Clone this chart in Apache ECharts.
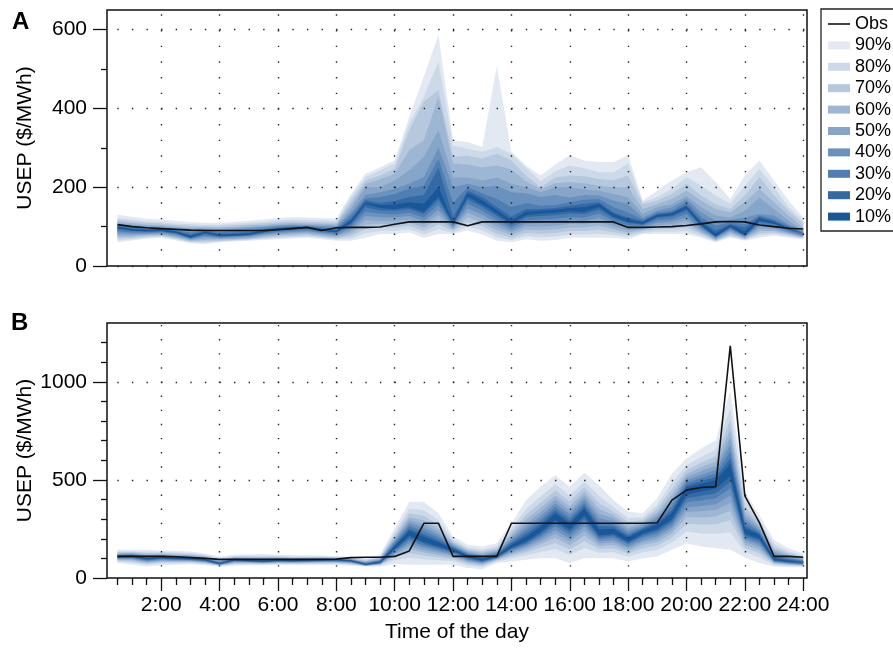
<!DOCTYPE html>
<html><head><meta charset="utf-8">
<script src="https://cdn.jsdelivr.net/npm/echarts@6/dist/echarts.min.js"></script>
<style>html,body{margin:0;padding:0;background:#fff}#c{width:893px;height:648px}</style>
</head><body><div id="c"></div>
<script>
// ---------- data ----------
const hours = [0.5,1,1.5,2,2.5,3,3.5,4,4.5,5,5.5,6,6.5,7,7.5,8,8.5,9,9.5,10,10.5,11,11.5,12,12.5,13,13.5,14,14.5,15,15.5,16,16.5,17,17.5,18,18.5,19,19.5,20,20.5,21,21.5,22,22.5,23,23.5,24];
const majorHours = [2,4,6,8,10,12,14,16,18,20,22,24];
const minorHours = [0.5,1,1.5,2.5,3,3.5,4.5,5,5.5,6.5,7,7.5,8.5,9,9.5,10.5,11,11.5,12.5,13,13.5,14.5,15,15.5,16.5,17,17.5,18.5,19,19.5,20.5,21,21.5,22.5,23,23.5];
const levels = ['90%','80%','70%','60%','50%','40%','30%','20%','10%'];
const yTicksA = [0,200,400,600];
const yMinorA = [100,300,500];
const yTicksB = [0,500,1000];
const yMinorB = [100,200,300,400,600,700,800,900,1100,1200];

// Panel A
const obsA = [105,100,97,95,93,91,90,90,90,90,90,92,95,98,90,97,98,98,99,106,112,112,112,112,102,112,112,112,112,112,112,112,112,112,112,98,98,99,100,103,107,112,113,112,104,100,96,94];
const aU10 = [100,94,92,93,88,77,87,80,81,83,90,96,98,99,94,90,116,162,155,156,162,158,200,112,186,167,142,116,138,140,143,147,150,158,132,119,112,130,134,152,110,83,104,88,121,112,96,82];
const aU20 = [101,96,93,94,89,80,88,82,84,86,92,97,99,100,95,92,120,167,160,165,175,180,250,125,192,175,150,125,145,145,147,153,158,162,136,123,114,132,136,155,115,90,106,98,125,115,98,83];
const aU30 = [103,98,96,96,91,85,90,86,88,90,95,99,101,101,98,96,128,172,175,183,196,204,272,160,200,185,170,150,160,153,155,162,168,170,149,136,118,136,140,162,124,102,111,106,128,119,102,85];
const aU40 = [105,102,99,98,94,91,93,91,93,96,99,102,104,103,101,100,135,180,187,196,209,226,300,200,209,200,204,187,185,175,180,174,180,179,166,157,123,140,149,170,136,115,117,123,132,128,106,88];
const aU50 = [108,105,102,101,97,95,95,94,96,99,101,104,106,105,104,103,145,200,200,217,243,277,345,225,225,217,225,209,200,187,200,200,195,191,183,174,132,149,157,178,149,128,123,140,174,145,115,91];
const aU60 = [112,109,105,104,100,98,98,97,99,102,104,107,109,108,107,106,155,209,220,234,294,319,430,260,258,250,255,245,215,195,210,213,210,204,200,200,145,157,170,192,166,145,136,162,196,162,128,98];
const aU70 = [117,113,109,108,104,102,101,101,103,106,108,111,113,112,111,110,165,217,230,247,345,417,447,277,280,272,285,268,230,200,225,230,228,221,217,230,157,166,183,209,179,157,145,179,226,179,140,107];
const aU80 = [122,118,113,112,108,106,105,105,107,110,112,116,118,117,116,114,175,226,243,260,362,430,519,306,298,290,302,285,250,215,240,255,248,238,238,260,162,175,196,226,204,179,158,204,247,200,149,115];
const aU90 = [130,125,120,118,115,112,110,110,112,115,118,122,124,123,122,120,183,234,251,268,379,481,587,319,315,302,507,290,255,230,258,281,268,264,264,281,166,192,217,238,251,213,170,230,268,217,166,123];
const aL10 = [96,90,88,89,84,72,83,76,77,79,86,92,94,96,90,86,109,157,147,145,149,137,176,107,176,156,133,107,129,133,135,139,137,150,125,112,107,125,129,146,103,75,99,78,115,107,93,79];
const aL20 = [93,89,87,88,83,71,81,75,76,78,85,91,93,95,89,85,106,149,141,140,144,132,168,105,169,150,127,104,124,127,129,133,132,143,121,109,105,122,126,140,102,74,98,77,112,106,92,78];
const aL30 = [88,85,85,86,81,70,77,73,75,77,82,87,89,91,86,82,100,138,133,131,135,123,155,103,158,140,118,98,116,118,120,124,123,133,114,103,103,116,119,132,98,73,94,76,106,102,89,78];
const aL40 = [84,82,82,84,78,68,74,71,73,75,80,84,86,88,83,79,94,127,124,123,127,114,142,99,146,130,109,91,108,109,111,116,114,122,107,97,99,110,113,123,93,71,91,74,101,97,86,76];
const aL50 = [79,78,80,81,75,66,70,69,70,72,77,81,83,85,80,76,88,116,115,114,118,106,130,95,135,120,100,85,100,100,102,107,106,112,100,91,95,104,106,115,89,68,87,72,95,93,83,74];
const aL60 = [74,75,78,79,73,64,66,67,68,70,74,78,80,82,77,73,82,105,107,106,110,98,119,92,124,110,91,79,92,91,93,98,98,102,93,85,92,98,100,106,85,66,83,70,89,89,81,73];
const aL70 = [70,72,75,77,70,62,62,64,66,68,71,74,76,78,74,70,76,94,98,98,102,89,106,88,112,100,82,72,84,82,84,89,89,92,86,80,88,93,94,98,81,64,79,68,83,85,78,71];
const aL80 = [65,68,72,74,68,60,59,62,64,66,69,71,73,75,71,67,70,83,89,89,93,80,93,84,101,90,73,66,76,73,75,80,80,82,79,74,84,87,87,89,76,62,76,66,78,81,75,70];
const aL90 = [60,65,70,72,65,58,55,60,62,64,66,68,70,72,68,64,64,72,81,81,85,72,81,81,90,80,64,60,68,64,66,72,72,72,72,68,81,81,81,81,72,60,72,64,72,77,72,68];

// Panel B
const obsB = [110,110,110,110,108,104,100,95,95,95,95,95,95,95,95,96,104,106,106,110,138,279,279,110,110,110,110,279,279,279,279,279,279,279,279,279,279,282,397,448,461,465,1184,419,282,110,110,106];
const bU10 = [111,115,102,107,103,101,95,75,94,91,88,92,90,92,94,94,90,71,83,163,241,210,182,149,115,98,115,170,210,263,330,278,354,248,250,206,244,274,331,461,481,500,582,253,220,101,89,80];
const bU20 = [113,117,105,109,106,104,97,78,96,93,91,94,92,94,95,95,91,73,86,170,252,223,193,154,119,103,120,178,224,278,345,292,368,265,261,216,251,284,346,472,494,515,611,267,227,108,94,84];
const bU30 = [116,119,109,112,109,107,100,81,98,95,94,96,94,96,97,97,93,76,89,178,265,239,206,159,124,108,125,187,241,296,362,309,384,284,274,227,258,295,364,485,510,533,643,284,236,116,100,88];
const bU40 = [120,122,113,116,112,110,103,84,100,98,97,99,97,98,99,98,94,79,93,187,280,256,221,165,129,114,131,198,259,315,381,327,401,306,288,240,267,308,383,500,527,552,680,302,246,125,106,92];
const bU50 = [123,125,117,119,116,113,106,88,103,101,100,101,99,101,101,100,96,82,96,196,294,274,235,171,134,120,137,209,277,335,400,345,419,328,303,253,275,321,403,514,545,572,716,320,256,134,112,97];
const bU60 = [126,128,121,122,119,117,109,91,105,104,104,104,102,103,104,102,98,85,100,206,310,293,251,178,140,127,144,221,298,357,421,366,439,353,319,267,284,335,425,530,564,594,757,341,267,145,119,102];
const bU70 = [131,132,127,127,124,121,113,96,108,108,108,108,106,106,106,105,101,89,105,218,329,317,270,186,147,135,152,235,322,384,446,390,463,382,338,285,296,353,452,549,588,621,805,365,280,157,127,108];
const bU80 = [136,137,134,132,130,127,118,102,112,113,114,112,110,110,110,108,104,95,111,233,354,346,295,196,156,145,162,253,352,417,478,420,492,419,362,306,310,374,485,574,617,654,866,395,296,172,137,115];
const bU90 = [144,144,144,140,138,135,125,110,118,120,122,118,116,116,115,112,108,102,120,255,389,389,330,211,169,160,177,279,397,465,524,465,536,473,397,338,330,406,533,609,660,702,955,440,320,194,152,126];
const bL10 = [105,108,95,101,97,96,90,71,90,86,83,88,86,88,90,90,86,67,78,148,215,184,161,138,105,89,107,154,186,233,296,247,319,218,226,185,226,250,299,426,441,456,518,226,200,90,82,74];
const bL20 = [103,105,92,98,95,94,88,70,88,85,82,86,85,86,88,88,84,67,77,143,204,175,154,133,101,86,105,149,179,223,281,234,302,209,217,178,217,239,288,407,419,432,489,217,191,88,80,73];
const bL30 = [101,102,89,95,93,92,86,69,85,83,80,84,83,84,86,86,82,66,75,136,191,165,146,127,96,82,102,143,171,212,264,219,283,199,206,169,206,227,274,386,395,406,457,207,180,85,77,71];
const bL40 = [98,98,86,92,90,89,83,68,82,81,79,82,81,82,84,84,80,65,73,128,177,154,137,120,91,78,99,136,162,199,245,202,262,187,193,159,193,213,259,361,367,376,420,195,168,82,75,69];
const bL50 = [95,94,82,88,87,87,81,67,80,79,77,80,79,80,81,81,77,64,71,121,162,142,128,113,86,73,96,129,153,186,226,186,241,176,181,149,181,200,244,337,340,347,384,183,156,79,72,67];
const bL60 = [92,90,78,84,84,84,78,65,77,76,75,78,77,78,79,79,75,63,69,113,146,130,117,105,80,69,93,121,142,172,205,167,217,163,168,138,168,184,227,310,309,314,343,170,142,76,69,65];
const bL70 = [88,84,73,79,80,80,75,64,73,74,72,75,74,75,76,76,72,62,67,103,127,115,105,96,73,63,89,112,130,154,179,145,189,148,151,125,151,166,207,277,273,274,294,154,126,72,66,63];
const bL80 = [83,78,68,74,75,76,71,62,69,70,69,71,71,71,72,72,68,61,64,90,103,96,90,85,64,56,83,101,115,133,148,117,153,129,131,108,131,143,181,237,227,225,233,134,106,66,61,60];
const bL90 = [76,68,59,65,68,70,65,59,62,65,65,66,66,66,66,66,62,59,59,72,68,68,68,68,51,45,76,84,93,101,101,76,101,101,101,84,101,110,144,177,160,152,144,105,76,59,55,55];

// ---------- styling ----------
const FONT = 'Liberation Sans, Arial, Helvetica, sans-serif';
const bandColors = ['#e3e9f2','#ccd9e8','#b5c8de','#9db6d3','#86a5c9','#6b92be','#4f7eb2','#336aa6','#17579a'];
const bandsA = [[aL90,aU90],[aL80,aU80],[aL70,aU70],[aL60,aU60],[aL50,aU50],[aL40,aU40],[aL30,aU30],[aL20,aU20],[aL10,aU10]];
const bandsB = [[bL90,bU90],[bL80,bU80],[bL70,bU70],[bL60,bU60],[bL50,bU50],[bL40,bU40],[bL30,bU30],[bL20,bU20],[bL10,bU10]];

// data items are [value, hour] so that the value (y) dimension is the stacked one
function bandSeries(panel, xi, yi, bands) {
  const out = [];
  levels.forEach((lv, i) => {
    const lo = bands[i][0], hi = bands[i][1];
    const stack = panel + lv;
    out.push({type:'line', name:'base'+stack, stack, xAxisIndex:xi, yAxisIndex:yi,
      encode:{x:1, y:0},
      data: hours.map((h,k)=>[lo[k], h]), symbol:'none', silent:true, z:2,
      lineStyle:{width:0, opacity:0}});
    out.push({type:'line', name:lv, stack, xAxisIndex:xi, yAxisIndex:yi,
      encode:{x:1, y:0},
      data: hours.map((h,k)=>[hi[k]-lo[k], h]), symbol:'none', silent:true, z:2,
      lineStyle:{width:0, opacity:0},
      itemStyle:{color:bandColors[i], borderWidth:0},
      areaStyle:{color:bandColors[i], opacity:1}});
  });
  return out;
}
function obsSeries(data, xi, yi) {
  return {type:'line', name:'Obs', xAxisIndex:xi, yAxisIndex:yi, symbol:'none', showSymbol:false, silent:true, z:4,
    data: hours.map((h,k)=>[h, data[k]]),
    lineStyle:{color:'#111', width:1.6}, itemStyle:{color:'#111'}};
}
const tickStyle = {color:'#111', width:1.3};
const labelStyle = {color:'#000', fontSize:21, fontFamily:FONT};
function dotted(period, offset) {
  return {show:true, lineStyle:{color:'#222', width:1.4, type:[1.4, period-1.4], dashOffset:offset}};
}
const numFmt = v => String(v);

const option = {
  animation:false,
  backgroundColor:'#fff',
  textStyle:{fontFamily:FONT},
  grid:[
    {left:107, top:10, width:700, height:256, show:true, borderColor:'#111', borderWidth:1.5, backgroundColor:'transparent', containLabel:false, outerBoundsMode:'none'},
    {left:107, top:323, width:700, height:255, show:true, borderColor:'#111', borderWidth:1.5, backgroundColor:'transparent', containLabel:false, outerBoundsMode:'none'}
  ],
  xAxis:[
    {type:'value', gridIndex:0, min:0.14, max:24.13, position:'bottom', z:6,
      axisLine:{show:false}, axisTick:{show:false, customValues:majorHours},
      axisLabel:{show:false, customValues:majorHours}, splitLine:dotted(15.66, 11.3)},
    {type:'value', gridIndex:1, min:0.14, max:24.13, position:'bottom', z:6,
      name:'Time of the day', nameLocation:'middle', nameGap:44, nameMoveOverlap:false,
      nameTextStyle:{color:'#000', fontSize:21, fontFamily:FONT},
      axisLine:{show:false},
      axisTick:{show:true, length:13, customValues:majorHours, lineStyle:tickStyle},
      axisLabel:Object.assign({show:true, margin:17, customValues:majorHours, formatter:v=>v+':00'}, labelStyle),
      splitLine:dotted(14.13, 12.2)},
    {type:'value', gridIndex:1, min:0.14, max:24.13, position:'bottom', offset:0, z:6,
      axisLine:{show:false},
      axisTick:{show:true, length:7, customValues:minorHours, lineStyle:tickStyle},
      axisLabel:{show:false}, splitLine:{show:false}}
  ],
  yAxis:[
    {type:'value', gridIndex:0, min:0, max:650, position:'left', z:6,
      name:'USEP ($/MWh)', nameLocation:'middle', nameGap:71, nameRotate:90, nameMoveOverlap:false,
      nameTextStyle:{color:'#000', fontSize:21, fontFamily:FONT},
      axisLine:{show:false},
      axisTick:{show:true, length:14, customValues:yTicksA, lineStyle:tickStyle},
      axisLabel:Object.assign({show:true, margin:20, customValues:yTicksA, formatter:numFmt}, labelStyle),
      splitLine:dotted(14.59, 4.3)},
    {type:'value', gridIndex:0, min:0, max:650, position:'left', offset:0, z:6,
      axisLine:{show:false},
      axisTick:{show:true, length:6, customValues:yMinorA, lineStyle:tickStyle},
      axisLabel:{show:false}, splitLine:{show:false}},
    {type:'value', gridIndex:1, min:0, max:1300, position:'left', z:6,
      name:'USEP ($/MWh)', nameLocation:'middle', nameGap:71, nameRotate:90, nameMoveOverlap:false,
      nameTextStyle:{color:'#000', fontSize:21, fontFamily:FONT},
      axisLine:{show:false},
      axisTick:{show:true, length:14, customValues:yTicksB, lineStyle:tickStyle},
      axisLabel:Object.assign({show:true, margin:20, customValues:yTicksB, formatter:numFmt}, labelStyle),
      splitLine:dotted(14.59, 4.3)},
    {type:'value', gridIndex:1, min:0, max:1300, position:'left', offset:0, z:6,
      axisLine:{show:false},
      axisTick:{show:true, length:6, customValues:yMinorB, lineStyle:tickStyle},
      axisLabel:{show:false}, splitLine:{show:false}}
  ],
  legend:{
    orient:'vertical', left:821, top:9, padding:[5,10,5,7], z:10,
    borderWidth:0, backgroundColor:'transparent',
    itemWidth:22, itemHeight:8, itemGap:1.4, selectedMode:false, symbolKeepAspect:true,
    textStyle:{color:'#000', fontSize:18, lineHeight:20, fontFamily:FONT},
    data:[{name:'Obs', icon:'path://M0 0 H22 V1.6 H0 Z', itemStyle:{color:'#111', borderWidth:0}}]
      .concat(levels.map((lv,i)=>({name:lv, icon:'rect', itemStyle:{color:bandColors[i], borderWidth:0}})))
  },
  graphic:[
    {type:'rect', z:1, silent:true, shape:{x:821, y:9, width:100, height:222},
      style:{fill:'#fff', stroke:'#222', lineWidth:1.3}},
    {type:'text', left:12, top:10, style:{text:'A', font:'bold 24px '+FONT, fill:'#000'}},
    {type:'text', left:11, top:311, style:{text:'B', font:'bold 24px '+FONT, fill:'#000'}}
  ],
  series: [].concat(
    bandSeries('A', 0, 0, bandsA), [obsSeries(obsA, 0, 0)],
    bandSeries('B', 1, 2, bandsB), [obsSeries(obsB, 1, 2)]
  )
};
const chart = echarts.init(document.getElementById('c'), null, {renderer:'canvas'});
chart.setOption(option);
</script>
</body></html>
